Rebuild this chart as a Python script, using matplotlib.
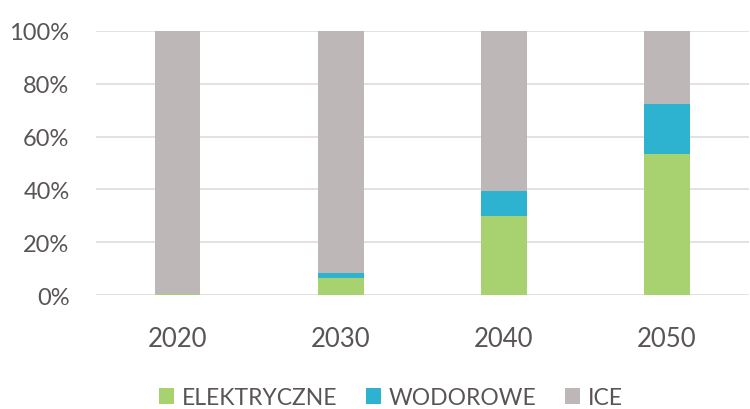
import matplotlib
matplotlib.use('Agg')
import matplotlib.pyplot as plt
import numpy as np
from matplotlib.ticker import PercentFormatter

# Share of vehicle drive types per year (%)
years = ['2020', '2030', '2040', '2050']
elektryczne = [0.5, 6.5, 30.0, 53.5]
wodorowe = [0.0, 2.0, 9.5, 19.0]
ice = [99.5, 91.5, 60.5, 27.5]

series_names = ['ELEKTRYCZNE', 'WODOROWE', 'ICE']
series_colors = ['#a8d26f', '#2db2d0', '#bdb7b7']

plt.rcParams['font.family'] = ['Lato', 'DejaVu Sans']
text_color = '#5a5555'

fig = plt.figure(figsize=(7.5, 4.1), dpi=100)
ax = fig.add_axes([0.128, 0.278, 0.87, 0.644])

x = np.arange(len(years))
width = 0.28
bottom = np.zeros(len(years))
handles = []
for name, vals, color in zip(series_names, [elektryczne, wodorowe, ice], series_colors):
    vals = np.array(vals)
    bars = ax.bar(x, vals, width, bottom=bottom, color=color, label=name, zorder=3)
    handles.append(bars)
    bottom += vals

ax.set_xlim(-0.5, 3.5)
ax.set_ylim(0, 100)
ax.set_yticks(np.arange(0, 101, 20))
ax.yaxis.set_major_formatter(PercentFormatter(decimals=0))
ax.set_xticks(x)
ax.set_xticklabels(years)

ax.grid(axis='y', color='#e2dcdc', linewidth=1.2, zorder=0)
for s in ax.spines.values():
    s.set_visible(False)
ax.tick_params(axis='both', length=0, colors=text_color)
ax.tick_params(axis='y', labelsize=17, pad=19)
ax.tick_params(axis='x', labelsize=18.5, pad=22)

fig.legend(handles=handles, labels=series_names, loc='center', ncol=3,
           bbox_to_anchor=(0.521, 0.028), frameon=False, fontsize=16.5,
           handlelength=0.65, handleheight=0.65, handletextpad=0.35,
           columnspacing=1.25, labelcolor=text_color, borderpad=0)

fig.savefig('out.png', dpi=100, facecolor='white')
